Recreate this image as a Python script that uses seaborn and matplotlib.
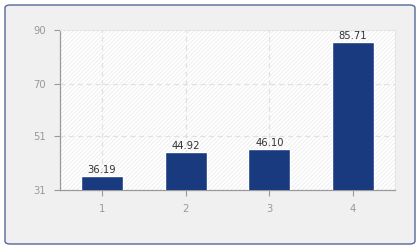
import matplotlib
matplotlib.use("Agg")
import matplotlib.pyplot as plt
import seaborn as sns
import pandas as pd
from matplotlib.patches import FancyBboxPatch, Rectangle

categories = ["1", "2", "3", "4"]
values = [36.19, 44.92, 46.10, 85.71]
yticks = [31, 51, 70, 90]

sns.set_theme(style="white")
plt.rcParams['font.family'] = ['DejaVu Sans']
plt.rcParams['hatch.linewidth'] = 0.5
plt.rcParams['hatch.color'] = '#e8e8e8'

df = pd.DataFrame({"cat": categories, "val": values})

fig = plt.figure(figsize=(4.2, 2.5), dpi=100)
fig.patch.set_facecolor("white")

box = FancyBboxPatch((5/420, 6/250), 410/420, 239/250,
                     boxstyle="round,pad=0,rounding_size=0.012",
                     transform=fig.transFigure, facecolor="#f0f0f0",
                     edgecolor="#56679a", linewidth=1.0, zorder=-10)
fig.add_artist(box)

ax = fig.add_axes([60/420, 1-190/250, 335/420, 160/250])
ax.set_zorder(1)
ax.set_facecolor("white")
ax.add_patch(Rectangle((0, 0), 1, 1, transform=ax.transAxes, facecolor="white",
                       edgecolor="#e8e8e8", hatch="////////", linewidth=0, zorder=0))

sns.barplot(data=df, x="cat", y="val", order=categories, color="#1a3a80",
            width=0.5, saturation=1, ax=ax, zorder=3)

ax.set_xlim(-0.5, 3.5)
ax.set_ylim(31, 90)
ax.set_yticks(yticks)
ax.set_yticklabels([str(t) for t in yticks])
ax.set_xlabel("")
ax.set_ylabel("")

for y in [51, 70]:
    ax.axhline(y, color="#e0e0e0", linestyle=(0, (4, 3)), linewidth=0.9, zorder=1)
for x in range(3):
    ax.axvline(x, color="#e0e0e0", linestyle=(0, (4, 3)), linewidth=0.9, zorder=1)

for i, v in enumerate(values):
    ax.text(i, v + 0.3, f"{v:.2f}", ha="center", va="bottom", fontsize=7.2,
            color="#333333", zorder=4)

for s in ["top", "right"]:
    ax.spines[s].set_color("#e6e6e6")
    ax.spines[s].set_linewidth(0.8)
for s in ["left", "bottom"]:
    ax.spines[s].set_color("#999999")
    ax.spines[s].set_linewidth(0.9)

ax.tick_params(axis="both", which="both", length=4, width=0.8, color="#999999",
               labelcolor="#999999", labelsize=7.2, direction="out", pad=6)
ax.tick_params(bottom=True, left=True)

fig.savefig("out.png", dpi=100)
